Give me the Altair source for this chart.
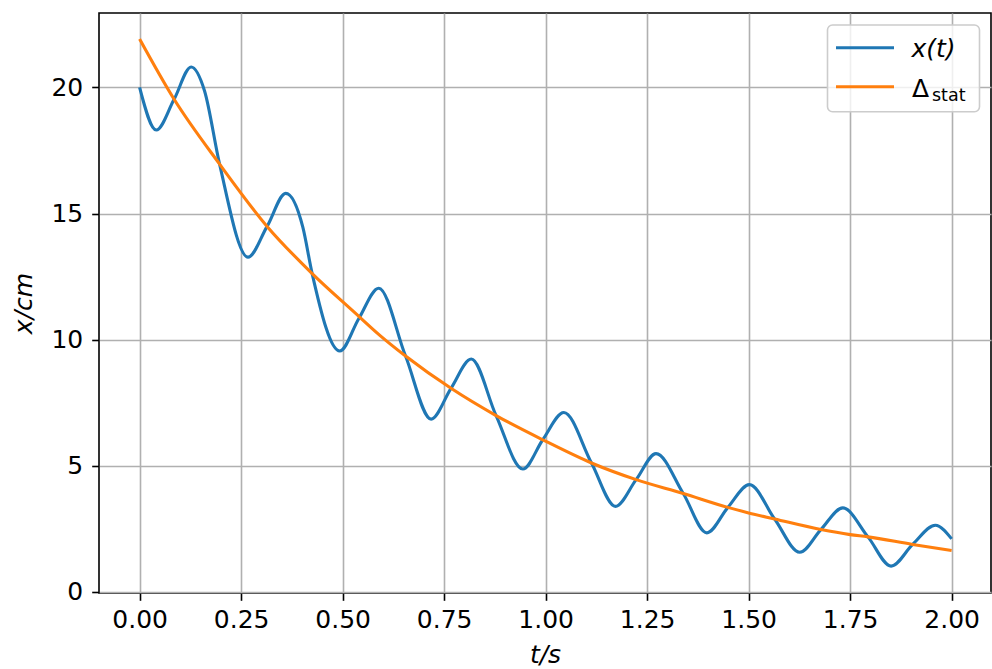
import altair as alt
import pandas as pd

# ---- data ----
t_x = [0.000, 0.041, 0.085, 0.127, 0.160, 0.197, 0.267, 0.314, 0.360, 0.402,
       0.425, 0.493, 0.540, 0.589, 0.655, 0.718, 0.767, 0.817, 0.878, 0.944,
       0.993, 1.045, 1.113, 1.172, 1.223, 1.272, 1.339, 1.397, 1.449, 1.502,
       1.564, 1.626, 1.678, 1.732, 1.794, 1.851, 1.904, 1.960, 2.000]
x_vals = [20.00, 18.31, 19.53, 20.81, 19.86, 16.96, 13.27, 14.49, 15.80, 14.46,
          12.62, 9.55, 10.84, 12.04, 9.35, 6.85, 8.07, 9.23, 6.99, 4.87,
          6.03, 7.11, 5.11, 3.39, 4.45, 5.48, 3.90, 2.34, 3.35, 4.25,
          2.89, 1.57, 2.47, 3.33, 2.18, 1.02, 1.88, 2.64, 2.10]

t_stat = [0.000, 0.085, 0.197, 0.314, 0.425, 0.530, 0.591, 0.655, 0.767, 0.878,
          0.993, 1.113, 1.223, 1.339, 1.449, 1.500, 1.564, 1.678, 1.750, 1.794,
          1.904, 2.000]
d_stat = [21.92, 19.53, 16.96, 14.49, 12.62, 11.07, 10.18, 9.35, 8.07, 6.99,
          6.03, 5.11, 4.45, 3.90, 3.35, 3.13, 2.89, 2.47, 2.27, 2.18,
          1.88, 1.64]

x_ticks = [0.0, 0.25, 0.5, 0.75, 1.0, 1.25, 1.5, 1.75, 2.0]
y_ticks = [0, 5, 10, 15, 20]
x_title = "t/s"
y_title = "x/cm"
legend_x = "x(t)"
legend_delta = "Δ"
legend_sub = "stat"

BLUE = "#1f77b4"
ORANGE = "#ff7f0e"
FONT = "DejaVu Sans"
FS = 25

df_x = pd.DataFrame({"t": t_x, "v": x_vals})
df_s = pd.DataFrame({"t": t_stat, "v": d_stat})

xscale = alt.Scale(domain=[-0.1, 2.097], nice=False, zero=False)
yscale = alt.Scale(domain=[-0.045, 22.95], nice=False, zero=False)

xaxis = alt.Axis(values=x_ticks, format=".2f", title=x_title, titleFontStyle="italic",
                 titleFontWeight="normal", titleFontSize=FS, titleFont=FONT,
                 titlePadding=10, labelFontSize=FS, labelFont=FONT, labelColor="black",
                 labelPadding=7, tickSize=7.3, tickWidth=1.6, tickColor="black",
                 domain=False, grid=True, gridColor="#b0b0b0", gridWidth=1.6,
                 labelFlush=False, labelOverlap=False)
yaxis = alt.Axis(values=y_ticks, format="d", title=y_title, titleFontStyle="italic",
                 titleFontWeight="normal", titleFontSize=FS, titleFont=FONT,
                 titlePadding=14, labelFontSize=FS, labelFont=FONT, labelColor="black",
                 labelPadding=9, tickSize=7.3, tickWidth=1.6, tickColor="black",
                 domain=False, grid=True, gridColor="#b0b0b0", gridWidth=1.6,
                 labelFlush=False, labelOverlap=False)

line_x = alt.Chart(df_x).mark_line(color=BLUE, strokeWidth=3.1, interpolate="monotone", clip=True).encode(
    x=alt.X("t:Q", scale=xscale, axis=xaxis),
    y=alt.Y("v:Q", scale=yscale, axis=yaxis),
)
line_s = alt.Chart(df_s).mark_line(color=ORANGE, strokeWidth=3.1, interpolate="monotone", clip=True).encode(
    x=alt.X("t:Q", scale=xscale),
    y=alt.Y("v:Q", scale=yscale),
)

one = alt.Data(values=[{"k": 0}])
box = alt.Chart(one).mark_rect(fill="white", fillOpacity=0.8, stroke="#cccccc",
                               strokeWidth=1.6, cornerRadius=5).encode(
    x=alt.value(728.5), x2=alt.value(880.5), y=alt.value(12), y2=alt.value(98.7))
leg_blue = alt.Chart(one).mark_rule(color=BLUE, strokeWidth=3.1).encode(
    x=alt.value(737), x2=alt.value(795), y=alt.value(34.7))
leg_orange = alt.Chart(one).mark_rule(color=ORANGE, strokeWidth=3.1).encode(
    x=alt.value(737), x2=alt.value(795), y=alt.value(73.7))
txt_x = alt.Chart(one).mark_text(align="left", baseline="alphabetic", font=FONT, fontSize=FS,
                                 fontStyle="italic", color="black").encode(
    x=alt.value(812.5), y=alt.value(43.5), text=alt.value(legend_x))
txt_d = alt.Chart(one).mark_text(align="left", baseline="alphabetic", font=FONT, fontSize=FS,
                                 color="black").encode(
    x=alt.value(813), y=alt.value(83.7), text=alt.value(legend_delta))
txt_s = alt.Chart(one).mark_text(align="left", baseline="alphabetic", font=FONT, fontSize=17.5,
                                 color="black").encode(
    x=alt.value(833), y=alt.value(88), text=alt.value(legend_sub))

chart = alt.layer(line_x, line_s, box, leg_blue, leg_orange, txt_x, txt_d, txt_s).properties(
    width=892, height=580,
    autosize=alt.AutoSizeParams(type="none"),
    padding={"left": 99, "top": 13, "right": 1, "bottom": 76},
    background="white",
).configure_view(stroke="black", strokeWidth=1.6)

chart.save("out.html", embed_options={"renderer": "svg", "actions": False})
